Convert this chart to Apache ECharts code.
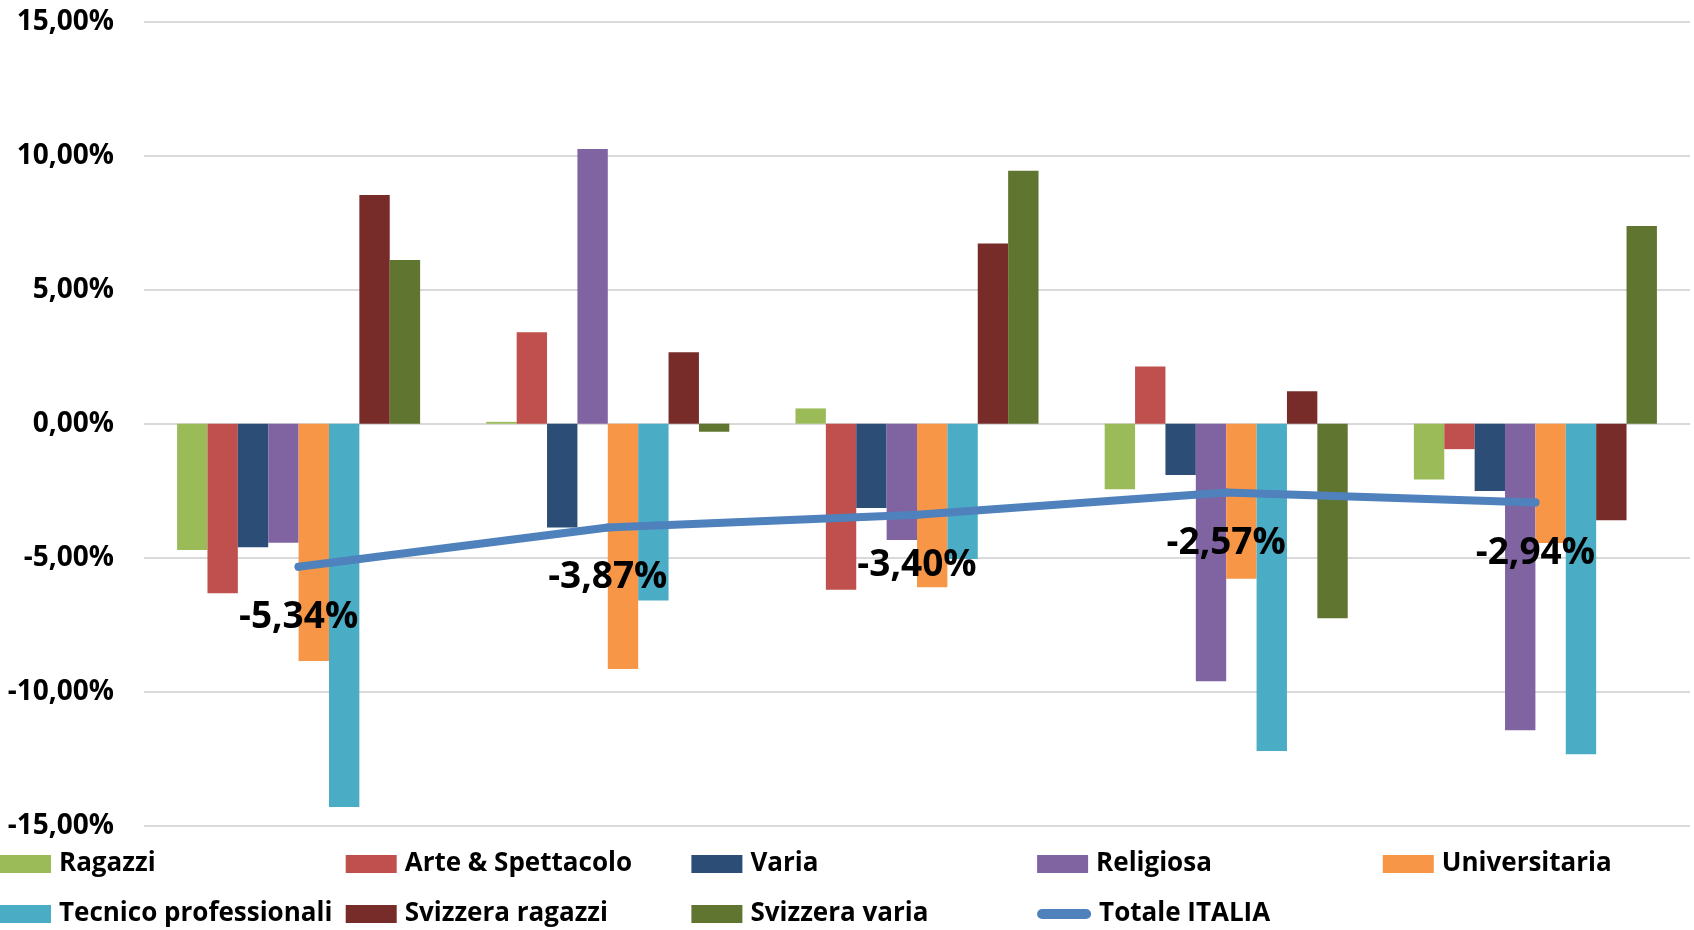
<!DOCTYPE html>
<html>
<head>
<meta charset="utf-8">
<title>Variazioni per comparto</title>
<script src="https://cdn.jsdelivr.net/npm/echarts@6.0.0/dist/echarts.min.js"></script>
<style>
    html, body { margin: 0; padding: 0; background: #fff; }
    #chart { width: 1694px; height: 930px; }
</style>
</head>
<body>
<div id="chart"></div>
<script>
// dati (variazioni %)
var categories = ['1', '2', '3', '4', '5'];
var ragazzi = [-4.71, 0.07, 0.57, -2.45, -2.08];
var arteSpettacolo = [-6.33, 3.41, -6.20, 2.13, -0.95];
var varia = [-4.61, -3.87, -3.15, -1.91, -2.51];
var religiosa = [-4.44, 10.25, -4.34, -9.61, -11.44];
var universitaria = [-8.85, -9.15, -6.10, -5.79, -4.45];
var tecnicoProfessionali = [-14.30, -6.60, -5.05, -12.21, -12.33];
var svizzeraRagazzi = [8.53, 2.67, 6.72, 1.21, -3.60];
var svizzeraVaria = [6.11, -0.30, 9.44, -7.26, 7.38];
var totaleItalia = [-5.34, -3.87, -3.40, -2.57, -2.94];
var yTicks = [-15, -10, -5, 0, 5, 10, 15];

var barNames = ['Ragazzi', 'Arte & Spettacolo', 'Varia', 'Religiosa', 'Universitaria',
    'Tecnico professionali', 'Svizzera ragazzi', 'Svizzera varia'];
var barData = [ragazzi, arteSpettacolo, varia, religiosa, universitaria,
    tecnicoProfessionali, svizzeraRagazzi, svizzeraVaria];
var barColors = ['#9bbb59', '#c0504d', '#2c4d75', '#8064a2', '#f79646', '#4bacc6', '#772c2a', '#5f7530'];
var lineName = 'Totale ITALIA';
var lineColor = '#4f81bd';

var font = "'Open Sans', sans-serif";

function fmt(v) {
    return v.toFixed(2).replace('.', ',') + '%';
}

var series = [];
for (var i = 0; i < barNames.length; i++) {
    series.push({
        name: barNames[i],
        type: 'bar',
        barGap: '0%',
        barCategoryGap: '21.4%',
        itemStyle: { color: barColors[i] },
        data: barData[i]
    });
}
series.push({
    name: lineName,
    type: 'line',
    symbol: 'circle',
    symbolSize: 8,
    showSymbol: true,
    z: 5,
    lineStyle: { color: lineColor, width: 8, cap: 'round', join: 'round' },
    itemStyle: { color: lineColor },
    label: {
        show: true,
        position: 'bottom',
        distance: 28,
        color: '#000',
        fontFamily: font,
        fontWeight: 'bold',
        fontSize: 37,
        formatter: function (p) { return fmt(p.value); }
    },
    data: totaleItalia
});

// legenda a colonne fisse, due righe
var legendNames = barNames.concat([lineName]);
var legends = legendNames.map(function (name, i) {
    var isLine = name === lineName;
    return {
        left: (i % 5) * 345.7,
        top: i < 5 ? 849 : 899,
        padding: 0,
        itemWidth: isLine ? 54 : 51,
        itemHeight: isLine ? 11 : 18,
        textStyle: {
            color: '#000',
            fontFamily: font,
            fontWeight: 'bold',
            fontSize: 26,
            lineHeight: 30,
            padding: [0, 0, 0, 3]
        },
        data: [isLine ? {
            name: name,
            icon: 'path://M5,0 H49 A5,5 0 0 1 49,10 H5 A5,5 0 0 1 5,0 Z'
        } : { name: name, icon: 'rect' }]
    };
});

var chart = echarts.init(document.getElementById('chart'));
chart.setOption({
    animation: false,
    grid: { left: 144, right: 4, top: 21.7, bottom: 104.3 },
    legend: legends,
    xAxis: {
        type: 'category',
        data: categories,
        axisLine: { show: false },
        axisTick: { show: false },
        axisLabel: { show: false },
        splitLine: { show: false }
    },
    yAxis: {
        type: 'value',
        min: yTicks[0],
        max: yTicks[yTicks.length - 1],
        interval: yTicks[1] - yTicks[0],
        axisLine: { show: false },
        axisTick: { show: false },
        axisLabel: {
            margin: 30,
            color: '#000',
            fontFamily: font,
            fontWeight: 'bold',
            fontSize: 28,
            formatter: function (v) { return fmt(v); }
        },
        splitLine: { lineStyle: { color: '#d9d9d9', width: 2 } }
    },
    series: series
});
</script>
</body>
</html>
